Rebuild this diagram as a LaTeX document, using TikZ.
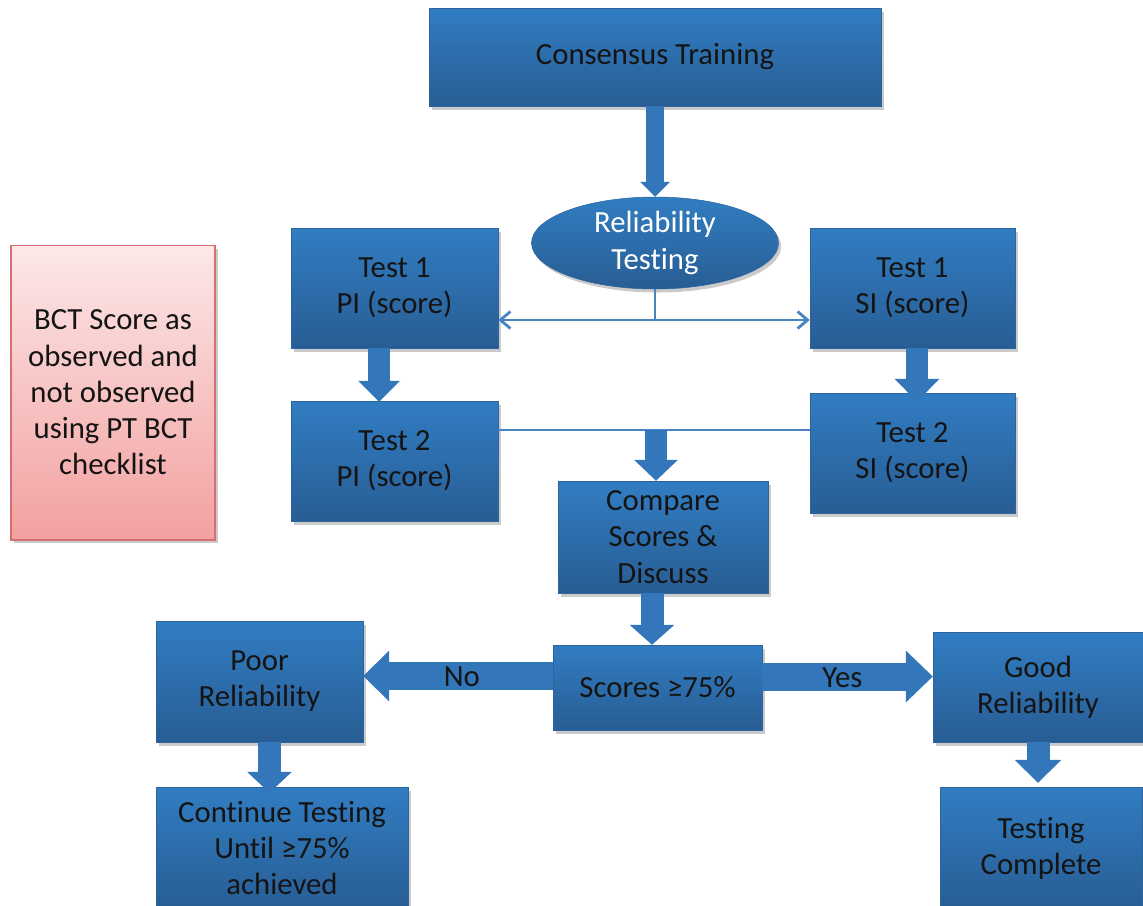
\documentclass[tikz,border=0pt]{standalone}
\usepackage{fontspec}
\setmainfont{Carlito}[Ligatures=NoCommon]
\usetikzlibrary{shapes.geometric, arrows.meta, shadows, calc}

\definecolor{boxtop}{RGB}{49,125,194}
\definecolor{boxbot}{RGB}{40,93,148}
\definecolor{boxedge}{RGB}{45,100,158}
\definecolor{arrowblue}{RGB}{52,118,186}
\definecolor{linkblue}{RGB}{74,132,192}
\definecolor{pinktop}{RGB}{252,232,232}
\definecolor{pinkbot}{RGB}{243,160,160}
\definecolor{pinkedge}{RGB}{214,112,112}
\definecolor{inktext}{RGB}{20,20,20}

\begin{document}
\begin{tikzpicture}[x=0.02cm, y=-0.02cm,
  every node/.style={font=\fontsize{17.5}{20.6}\selectfont, align=center, inner sep=0pt, text=inktext},
  softshadow/.style={drop shadow={shadow xshift=1.5pt, shadow yshift=-2pt, opacity=0.35, fill=black!60}},
  bluebox/.style 2 args={rectangle, minimum width=#1, minimum height=#2,
    top color=boxtop, bottom color=boxbot, draw=boxedge, line width=0.3pt, softshadow},
  blueoval/.style 2 args={ellipse, minimum width=#1, minimum height=#2,
    top color=boxtop, bottom color=boxbot, draw=boxedge, line width=0.3pt, softshadow, text=white},
  notebox/.style 2 args={rectangle, minimum width=#1, minimum height=#2,
    top color=pinktop, bottom color=pinkbot, draw=pinkedge, line width=0.6pt, softshadow},
  fat/.style n args={3}{draw=arrowblue, line width=#1,
    -{Triangle[width=#2, length=#3, line width=0pt]}},
  link/.style={draw=linkblue, line width=1.6pt},
  label/.style={text=inktext}
]
\useasboundingbox (0,0) rectangle (1143,906);
\clip (0,0) rectangle (1143,906);

% ---------- nodes ----------
\node[bluebox={9.04cm}{1.96cm}] (ct) at (655,57) {Consensus Training};
\node[blueoval={4.94cm}{1.84cm}] (rt) at (655,243) {Reliability\\Testing};

\node[bluebox={4.14cm}{2.4cm}] (t1p) at (394.5,288) {Test 1\\PI (score)};
\node[bluebox={4.10cm}{2.4cm}] (t1s) at (912.5,288) {Test 1\\SI (score)};
\node[bluebox={4.14cm}{2.4cm}] (t2p) at (394.5,461) {Test 2\\PI (score)};
\node[bluebox={4.10cm}{2.4cm}] (t2s) at (912.5,453) {Test 2\\SI (score)};

\node[bluebox={4.2cm}{2.24cm}] (cmp) at (663,537) {Compare\\Scores \&\\Discuss};
\node[bluebox={4.18cm}{1.7cm}] (sc) at (657.5,687.5) {Scores ≥75\%};

\node[bluebox={4.14cm}{2.42cm}] (poor) at (259.5,681.5) {Poor\\Reliability};
\node[bluebox={4.2cm}{2.2cm}] (good) at (1038,687) {Good\\Reliability};

\node[bluebox={5.04cm}{2.44cm}] (cont) at (282,848) {Continue Testing\\Until ≥75\%\\achieved};
\node[bluebox={4.04cm}{2.44cm}] (tc) at (1041,848) {Testing\\Complete};

\node[notebox={4.08cm}{5.9cm}] (note) at (113,392.5)
  {BCT Score as\\observed and\\not observed\\using PT BCT\\checklist};

% ---------- thin connectors ----------
\coordinate (split) at (655,320);
\coordinate (jn) at (656,430);
\draw[link] (rt.south) -- (split);
\draw[link, {Straight Barb[length=0.2cm, width=0.34cm]}-{Straight Barb[length=0.2cm, width=0.34cm]}]
  (t1p.east |- split) -- (t1s.west |- split);
\draw[link] (t2p.east |- jn) -- (t2s.west |- jn);

% ---------- block arrows ----------
\draw[fat={0.36cm}{0.6cm}{0.3cm}] (ct.south) -- (rt.north);

\coordinate (pa) at ([xshift=-0.31cm]t1p.south);
\draw[fat={0.44cm}{0.84cm}{0.42cm}] (pa) -- ([yshift=-0.02cm]pa |- t2p.north);

\coordinate (sa) at ([xshift=0.09cm]t1s.south);
\draw[fat={0.44cm}{0.9cm}{0.46cm}] (sa) -- ([yshift=-0.18cm]sa |- t2s.north);

\draw[fat={0.44cm}{0.88cm}{0.42cm}] (jn) -- (jn |- cmp.north);

\coordinate (ca) at ([xshift=-0.22cm]cmp.south);
\draw[fat={0.46cm}{0.9cm}{0.4cm}] (ca) -- (ca |- sc.north);

\coordinate (ya) at ([yshift=0.22cm]sc.east);
\draw[fat={0.56cm}{1.04cm}{0.54cm}] (ya) -- (ya -| good.west)
  node[label, pos=0.47, yshift=-0.02cm] {Yes};
\coordinate (na) at ([yshift=0.23cm]sc.west);
\draw[fat={0.56cm}{1.02cm}{0.52cm}] (na) -- (na -| poor.east)
  node[label, pos=0.48, yshift=-0.02cm] {No};

\coordinate (ra) at ([xshift=0.2cm]poor.south);
\draw[fat={0.46cm}{0.9cm}{0.42cm}] (ra) -- ([yshift=-0.12cm]ra |- cont.north);
\draw[fat={0.46cm}{0.94cm}{0.46cm}] (good.south) -- ([yshift=0.08cm]good.south |- tc.north);
\end{tikzpicture}
\end{document}
